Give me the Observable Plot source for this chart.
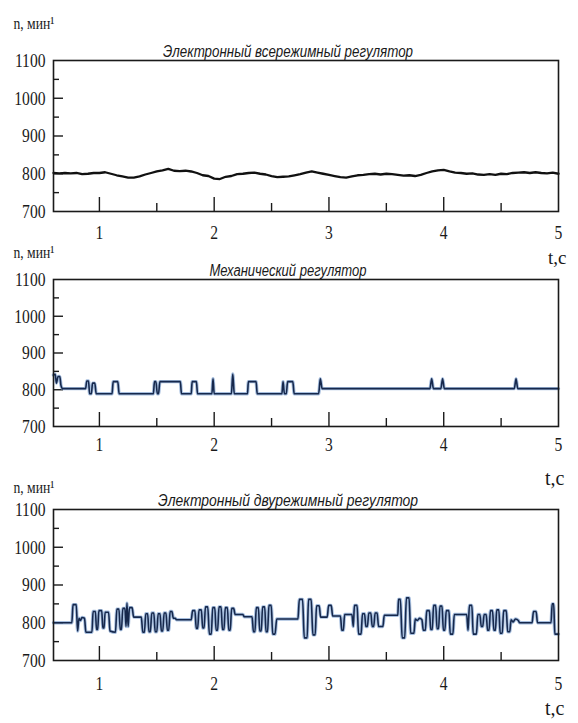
<!DOCTYPE html>
<html><head><meta charset="utf-8">
<script src="https://cdn.jsdelivr.net/npm/d3@7"></script>
<script src="https://cdn.jsdelivr.net/npm/@observablehq/plot@0.6"></script>
<style>
body{margin:0;background:#fff;}
#chart{width:578px;height:723px;position:relative;}
#chart svg{display:block;overflow:visible;background:transparent;}
</style></head><body><div id="chart"></div>
<script>
// ---------- data ----------
const panelTitles = ["Электронный всережимный регулятор", "Механический регулятор", "Электронный двурежимный регулятор"];
const yLabel = "n, мин¹";
const xLabel = "t,c";
const xTickLabels = [1, 2, 3, 4, 5];
const xMajorTicks = [1, 2, 3, 4];
const xMinorTicks = [1.5, 2.5, 3.5, 4.5];
const yTickLabels = [700, 800, 900, 1000, 1100];
const yMajorTicks = [800, 900, 1000];
const yMinorTicks = [750, 850, 950, 1050];

// Panel 1: electronic all-mode regulator
const t1 = [0.60,0.65,0.70,0.75,0.80,0.85,0.90,0.95,1.00,1.05,1.10,1.15,1.20,1.25,1.30,1.35,1.40,1.45,1.50,1.55,1.60,1.65,1.70,1.75,1.80,1.85,1.90,1.95,2.00,2.05,2.10,2.15,2.20,2.25,2.30,2.35,2.40,2.45,2.50,2.55,2.60,2.65,2.70,2.75,2.80,2.85,2.90,2.95,3.00,3.05,3.10,3.15,3.20,3.25,3.30,3.35,3.40,3.45,3.50,3.55,3.60,3.65,3.70,3.75,3.80,3.85,3.90,3.95,4.00,4.05,4.10,4.15,4.20,4.25,4.30,4.35,4.40,4.45,4.50,4.55,4.60,4.65,4.70,4.75,4.80,4.85,4.90,4.95,5.00];
const n1 = [802,801,802,801,802,799,800,802,802,804,800,796,793,790,790,793,798,802,806,809,813,808,807,808,806,802,796,794,787,786,792,794,799,800,802,803,800,798,794,791,792,793,796,799,803,806,803,800,797,794,791,790,793,796,797,799,800,798,800,799,797,795,796,794,797,802,806,809,810,806,803,802,800,801,798,797,799,797,800,799,802,803,804,802,804,802,801,803,800];

// Panel 2: mechanical regulator
const t2 = [0.600,0.615,0.625,0.640,0.655,0.665,0.680,0.880,0.890,0.905,0.915,0.930,0.940,0.960,0.972,1.110,1.120,1.160,1.172,1.470,1.480,1.492,1.505,1.515,1.527,1.705,1.715,1.800,1.808,1.845,1.855,1.980,1.990,2.000,2.150,2.162,2.175,2.290,2.298,2.365,2.375,2.590,2.600,2.612,2.628,2.640,2.685,2.697,2.910,2.925,2.940,3.880,3.895,3.910,3.975,3.990,4.005,4.615,4.630,4.645,5.000];
const n2 = [840,842,818,836,836,812,803,803,824,824,789,789,818,818,789,789,822,822,789,789,822,822,789,789,822,822,789,789,822,822,789,789,830,789,789,843,789,789,822,822,789,789,822,789,789,822,822,789,789,830,803,803,830,803,803,830,803,803,830,803,803];

// Panel 3: electronic two-mode regulator
const t3 = [0.600,0.760,0.770,0.798,0.810,0.822,0.835,0.848,0.870,0.882,0.935,0.945,0.965,0.975,0.985,0.995,1.020,1.030,1.040,1.050,1.080,1.092,1.140,1.152,1.170,1.182,1.192,1.204,1.222,1.232,1.240,1.250,1.262,1.285,1.298,1.365,1.378,1.392,1.404,1.420,1.432,1.444,1.456,1.474,1.486,1.500,1.512,1.528,1.540,1.552,1.564,1.580,1.592,1.604,1.616,1.632,1.644,1.660,1.672,1.800,1.812,1.832,1.844,1.856,1.868,1.888,1.900,1.912,1.924,1.944,1.958,1.975,1.987,2.005,2.017,2.030,2.042,2.060,2.072,2.085,2.097,2.115,2.127,2.140,2.152,2.170,2.182,2.250,2.262,2.330,2.342,2.355,2.367,2.385,2.397,2.410,2.422,2.440,2.452,2.465,2.477,2.497,2.510,2.530,2.545,2.730,2.742,2.770,2.785,2.810,2.822,2.845,2.860,2.880,2.892,2.915,2.927,2.985,2.997,3.020,3.032,3.100,3.112,3.125,3.137,3.200,3.212,3.222,3.245,3.258,3.280,3.292,3.310,3.322,3.335,3.347,3.365,3.377,3.390,3.402,3.420,3.432,3.470,3.482,3.600,3.606,3.622,3.638,3.660,3.675,3.698,3.712,3.740,3.752,3.770,3.790,3.810,3.822,3.840,3.852,3.875,3.887,3.900,3.912,3.930,3.942,3.955,3.967,3.985,3.997,4.010,4.022,4.045,4.057,4.080,4.092,4.200,4.212,4.224,4.245,4.257,4.285,4.297,4.315,4.327,4.340,4.352,4.370,4.382,4.395,4.407,4.425,4.437,4.450,4.462,4.480,4.492,4.510,4.522,4.545,4.557,4.575,4.587,4.605,4.625,4.650,4.662,4.770,4.782,4.805,4.817,4.935,4.945,4.958,4.968,5.000];
const n3 = [800,800,848,848,778,812,806,814,812,775,775,830,830,782,782,832,832,786,786,828,828,778,775,836,836,782,782,838,838,790,852,790,840,840,815,815,775,775,824,824,776,776,826,826,776,776,824,824,778,778,826,826,780,780,830,830,812,812,808,808,832,832,785,785,834,834,786,786,842,842,770,770,840,840,780,780,842,842,782,782,840,840,780,780,838,838,822,822,816,816,776,776,840,840,778,778,842,842,776,776,846,846,770,770,810,810,862,862,760,760,862,862,768,768,845,845,815,815,846,846,818,818,780,780,822,822,790,846,846,770,770,824,824,790,790,826,826,790,790,826,826,790,790,820,820,862,862,760,760,866,866,772,772,810,806,812,808,780,780,832,832,782,782,846,846,784,784,844,844,780,780,832,832,770,770,822,822,780,846,846,770,770,822,822,790,790,822,822,780,780,832,832,780,780,834,834,772,772,832,832,776,776,808,802,810,806,800,800,830,830,800,800,850,850,770,770];

// ---------- layout ----------
const panels = [
  {t: t1, n: n1, title: panelTitles[0], height: 240, mt: 60, mb: 29, labelDy: -44, titleDy: -15, tcDy: 52, tcDx: 8, tcSize: 19, tickPad: 14, titleW: 250, navy: false},
  {t: t2, n: n2, title: panelTitles[1], height: 230, mt: 39, mb: 44, labelDy: -34, titleDy: -15, tcDy: 58, tcDx: 6, tcSize: 20, tickPad: 11, titleW: 157, navy: true},
  {t: t3, n: n3, title: panelTitles[2], height: 253, mt: 39, mb: 63, labelDy: -29, titleDy: -15, tcDy: 54, tcDx: 6, tcSize: 20, tickPad: 16, titleW: 260, navy: true}
];
const W = 578, ML = 53, MR = 20;
const ink = "#1a1a1a";
const chart = document.getElementById("chart");

for (const p of panels) {
  const data = p.t.map((t, i) => ({t, n: p.n[i]}));
  const plotH = p.height - p.mt - p.mb;
  const plotW = W - ML - MR;
  const lineMarks = p.navy ? [
    Plot.line(data, {x: "t", y: "n", stroke: "#6a92c8", strokeWidth: 3.4, strokeOpacity: 0.6, curve: "monotone-x"}),
    Plot.line(data, {x: "t", y: "n", stroke: "#16284c", strokeWidth: 1.6, curve: "monotone-x"})
  ] : [
    Plot.line(data, {x: "t", y: "n", stroke: "#111", strokeWidth: 2.3, curve: "linear"})
  ];
  const svg = Plot.plot({
    width: W, height: p.height,
    marginLeft: ML, marginRight: MR, marginTop: p.mt, marginBottom: p.mb,
    style: {background: "transparent", overflow: "visible", fontFamily: "'Liberation Serif', 'Times New Roman', serif", fontSize: "19.5px", color: ink},
    x: {domain: [0.6, 5], ticks: xTickLabels, tickSize: 0, tickPadding: p.tickPad, tickFormat: d => String(d), label: null},
    y: {domain: [700, 1100], ticks: yTickLabels, tickSize: 0, tickPadding: 8, tickFormat: d => String(d), label: null},
    marks: [
      Plot.tickX(xMajorTicks, {x: d => d, insetTop: plotH - 14, stroke: ink, strokeWidth: 1.4}),
      Plot.tickX(xMinorTicks, {x: d => d, insetTop: plotH - 8, stroke: ink, strokeWidth: 1.4}),
      Plot.tickY(yMajorTicks, {y: d => d, insetRight: plotW - 10, stroke: ink, strokeWidth: 1.4}),
      Plot.tickY(yMinorTicks, {y: d => d, insetRight: plotW - 6, stroke: ink, strokeWidth: 1.4}),
      ...lineMarks,
      Plot.frame({stroke: ink, strokeWidth: 1.6}),
      Plot.text([p.title], {text: d => d, frameAnchor: "top", dx: -18, dy: p.titleDy, fontFamily: "'Liberation Sans', Arial, sans-serif", fontStyle: "italic", fontSize: 16, fill: ink}),
      Plot.text([yLabel], {text: d => d, frameAnchor: "top-left", textAnchor: "start", dx: -40, dy: p.labelDy, fontSize: 17, fill: ink}),
      Plot.text([xLabel], {text: d => d, frameAnchor: "bottom-right", dx: p.tcDx, dy: p.tcDy, fontSize: p.tcSize, fill: ink})
    ]
  });
  chart.appendChild(svg);
  // condense the serif lettering like the scanned original; fit titles
  svg.querySelectorAll("text").forEach(el => {
    const s = el.textContent;
    if (s === xLabel) return;
    const w = el.getComputedTextLength();
    if (!(w > 0)) return;
    const target = s === p.title ? p.titleW : w * 0.8;
    el.setAttribute("textLength", target.toFixed(1));
    el.setAttribute("lengthAdjust", "spacingAndGlyphs");
  });
}
</script></body></html>
